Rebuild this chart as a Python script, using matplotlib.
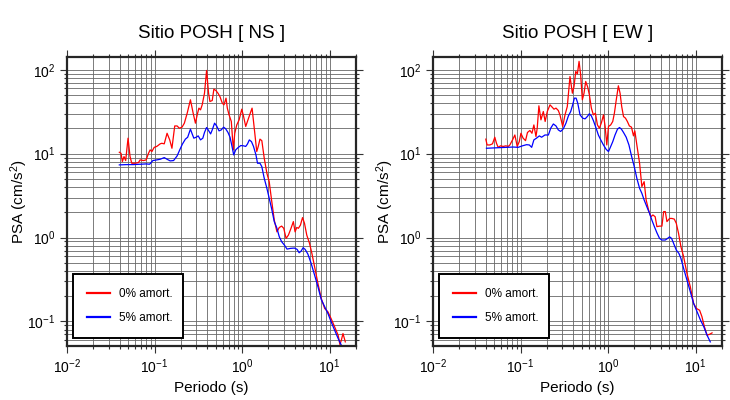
import numpy as np
import matplotlib
matplotlib.use("Agg")
import matplotlib.pyplot as plt
from matplotlib.ticker import LogLocator, NullFormatter

plt.rcParams['font.family'] = ['Liberation Sans', 'DejaVu Sans']
plt.rcParams['mathtext.fontset'] = 'custom'
plt.rcParams['mathtext.rm'] = 'Liberation Sans'
plt.rcParams['mathtext.it'] = 'Liberation Sans:italic'

# ---- datos: Sitio POSH, componente NS ----
ns_t0 = [0.0396, 0.0414, 0.0429, 0.0448, 0.0468, 0.0498, 0.0525, 0.0549, 0.0600, 0.0655,
         0.0684, 0.0748, 0.0802, 0.0853, 0.0891, 0.0932, 0.0991, 0.106, 0.116, 0.121,
         0.129, 0.139, 0.149, 0.158, 0.170, 0.181, 0.192, 0.206, 0.219, 0.236,
         0.257, 0.276, 0.293, 0.307, 0.321, 0.335, 0.350, 0.372, 0.393, 0.414,
         0.429, 0.456, 0.476, 0.502, 0.530, 0.558, 0.594, 0.621, 0.655, 0.678,
         0.710, 0.753, 0.794, 0.824, 0.869, 0.925, 0.991, 1.04, 1.10, 1.15,
         1.24, 1.30, 1.37, 1.47, 1.53, 1.60, 1.68, 1.79, 1.92, 2.04,
         2.17, 2.33, 2.50, 2.66, 2.83, 2.99, 3.18, 3.38, 3.62, 3.85,
         4.03, 4.21, 4.40, 4.64, 4.90, 5.16, 5.48, 5.89, 6.27, 6.73,
         7.35, 8.02, 8.77, 9.57, 10.4, 11.4, 12.5, 13.1, 13.6, 14.2, 15.1]
ns_psa0 = [10.4, 10.1, 8.05, 9.23, 8.28, 15.3, 9.23, 7.69, 7.69, 7.83,
           8.43, 8.28, 8.43, 10.1, 11.1, 10.6, 11.9, 12.2, 13.1, 13.3,
           13.1, 17.5, 14.6, 11.6, 21.4, 21.4, 20.1, 20.7, 23.1, 30.4,
           43.9, 30.4, 23.1, 29.0, 34.9, 33.3, 38.2, 52.6, 98.2, 52.6,
           41.9, 43.0, 58.8, 56.6, 52.6, 48.0, 40.0, 38.2, 45.9, 34.9,
           29.0, 24.2, 11.1, 17.5, 22.0, 25.3, 33.9, 27.7, 21.1, 24.2,
           30.4, 34.9, 21.1, 10.6, 12.2, 14.9, 14.3, 8.83, 5.84, 4.64,
           2.81, 1.62, 1.17, 1.32, 1.37, 1.29, 0.977, 1.07, 1.29, 1.55,
           1.17, 1.32, 1.29, 1.41, 1.73, 1.48, 1.07, 0.853, 0.647, 0.449,
           0.284, 0.188, 0.143, 0.130, 0.108, 0.0863, 0.0686, 0.0531, 0.0598, 0.0718, 0.0571]

ns_t5 = [0.0396, 0.0481, 0.0574, 0.0684, 0.0802, 0.0877, 0.0957, 0.106, 0.116, 0.129,
         0.139, 0.151, 0.165, 0.181, 0.194, 0.208, 0.225, 0.239, 0.257, 0.269,
         0.281, 0.299, 0.315, 0.335, 0.356, 0.372, 0.393, 0.410, 0.437, 0.456,
         0.485, 0.512, 0.545, 0.578, 0.615, 0.649, 0.690, 0.728, 0.767, 0.802,
         0.845, 0.899, 0.966, 1.04, 1.10, 1.15, 1.21, 1.28, 1.35, 1.44,
         1.50, 1.60, 1.68, 1.79, 1.92, 2.04, 2.17, 2.33, 2.50, 2.66,
         2.83, 3.04, 3.26, 3.56, 3.96, 4.25, 4.48, 4.72, 4.98, 5.25,
         5.64, 6.15, 6.73, 7.35, 8.02, 8.77, 9.57, 10.4, 11.4, 12.5, 13.6]
ns_psa5 = [7.35, 7.41, 7.41, 7.48, 7.55, 7.48, 8.28, 8.43, 8.58, 8.98,
           8.58, 8.20, 8.28, 9.40, 11.1, 13.0, 14.9, 15.7, 19.6, 17.2,
           15.3, 15.7, 16.3, 14.6, 15.3, 17.9, 20.5, 19.2, 17.2, 19.2,
           23.1, 21.4, 18.7, 19.2, 20.7, 19.8, 17.9, 15.7, 12.2, 9.66,
           11.1, 11.8, 12.5, 12.4, 12.2, 13.0, 14.6, 13.9, 12.2, 9.66,
           7.69, 7.69, 7.01, 5.09, 3.86, 2.94, 2.23, 1.55, 1.29, 1.02,
           0.893, 0.815, 0.729, 0.743, 0.750, 0.723, 0.659, 0.690, 0.757, 0.723,
           0.636, 0.492, 0.357, 0.259, 0.183, 0.150, 0.124, 0.0991, 0.0787, 0.0627, 0.0521]

# ---- componente EW ----
ew_t0 = [0.0401, 0.0415, 0.0446, 0.0478, 0.0508, 0.0531, 0.0555, 0.0590, 0.0634, 0.0679,
         0.0722, 0.0755, 0.0810, 0.0861, 0.0916, 0.0966, 0.101, 0.107, 0.114, 0.120,
         0.128, 0.135, 0.142, 0.150, 0.155, 0.162, 0.171, 0.182, 0.191, 0.202,
         0.217, 0.226, 0.241, 0.254, 0.270, 0.282, 0.303, 0.322, 0.342, 0.367,
         0.391, 0.408, 0.427, 0.446, 0.466, 0.486, 0.508, 0.531, 0.555, 0.585,
         0.611, 0.644, 0.679, 0.716, 0.755, 0.796, 0.840, 0.885, 0.925, 0.966,
         1.01, 1.07, 1.13, 1.18, 1.24, 1.31, 1.37, 1.43, 1.50, 1.58,
         1.66, 1.75, 1.85, 1.95, 2.02, 2.13, 2.29, 2.43, 2.58, 2.72,
         2.90, 3.08, 3.25, 3.45, 3.61, 3.87, 4.12, 4.31, 4.50, 4.70,
         5.04, 5.36, 5.70, 6.01, 6.38, 6.79, 7.29, 7.96, 8.69, 9.48,
         10.2, 11.1, 11.8, 12.6, 13.5, 14.5, 15.4]
ew_psa0 = [14.9, 12.7, 12.7, 13.1, 15.7, 13.3, 11.9, 12.4, 12.2, 12.4,
           12.2, 12.7, 14.6, 16.7, 12.2, 13.9, 17.5, 15.3, 14.3, 17.9,
           18.9, 17.5, 22.0, 16.0, 20.1, 37.2, 25.3, 31.8, 24.2, 31.8,
           38.2, 36.5, 33.9, 34.9, 32.7, 29.0, 21.1, 29.0, 36.5, 83.2,
           52.6, 63.2, 95.5, 89.5, 126.0, 87.1, 43.9, 52.6, 72.6, 62.1,
           50.3, 34.9, 29.0, 30.4, 22.0, 20.1, 23.5, 29.0, 21.1, 12.7,
           21.1, 22.0, 24.2, 30.4, 43.9, 64.4, 52.6, 36.5, 27.7, 26.5,
           24.2, 21.4, 20.7, 16.3, 18.7, 12.7, 7.69, 4.05, 4.64, 2.81,
           2.13, 1.77, 1.86, 1.77, 1.35, 1.37, 1.37, 2.04, 2.04, 1.55,
           1.69, 1.69, 1.66, 1.48, 1.12, 0.778, 0.592, 0.374, 0.259, 0.164,
           0.143, 0.136, 0.114, 0.0863, 0.0686, 0.0705, 0.0731]

ew_t5 = [0.0408, 0.0486, 0.0580, 0.0692, 0.0824, 0.0940, 0.105, 0.117, 0.126, 0.134,
         0.142, 0.152, 0.164, 0.174, 0.190, 0.208, 0.221, 0.237, 0.254, 0.270,
         0.287, 0.308, 0.330, 0.352, 0.374, 0.394, 0.412, 0.431, 0.450, 0.478,
         0.513, 0.546, 0.579, 0.611, 0.644, 0.679, 0.730, 0.774, 0.824, 0.885,
         0.948, 1.01, 1.05, 1.13, 1.20, 1.28, 1.35, 1.42, 1.50, 1.61,
         1.73, 1.85, 1.99, 2.13, 2.29, 2.43, 2.58, 2.77, 2.97, 3.16,
         3.36, 3.61, 3.87, 4.12, 4.50, 4.78, 5.04, 5.31, 5.60, 6.01,
         6.44, 6.79, 7.29, 7.96, 8.69, 9.48, 10.4, 11.3, 12.4, 13.5, 14.7]
ew_psa5 = [11.6, 11.7, 11.8, 11.9, 12.0, 11.9, 12.4, 12.8, 12.7, 11.9,
           14.6, 15.3, 16.3, 15.7, 16.7, 16.7, 20.1, 22.6, 21.4, 19.2,
           18.4, 19.8, 23.1, 28.2, 31.8, 38.2, 45.9, 45.9, 40.0, 29.0,
           26.5, 26.0, 27.7, 29.9, 28.2, 24.8, 20.1, 16.7, 14.6, 12.7,
           11.3, 10.6, 11.6, 13.9, 16.7, 19.6, 20.5, 19.6, 17.9, 15.7,
           12.7, 9.40, 7.01, 5.09, 3.86, 3.37, 2.81, 2.33, 1.95, 1.62,
           1.37, 1.14, 0.977, 0.935, 0.935, 0.977, 1.02, 0.977, 0.853, 0.710,
           0.647, 0.565, 0.429, 0.311, 0.226, 0.164, 0.130, 0.105, 0.0863, 0.0686, 0.0571]

panels = [("Sitio POSH [ NS ]", ns_t0, ns_psa0, ns_t5, ns_psa5),
          ("Sitio POSH [ EW ]", ew_t0, ew_psa0, ew_t5, ew_psa5)]

fig = plt.figure(figsize=(7.3, 4.0), dpi=100)
lefts = [67/730, 433/730]

for k, (titulo, t0, p0, t5, p5) in enumerate(panels):
    ax = fig.add_axes([lefts[k], 54/400, 289/730, 289/400])
    ax.set_xscale('log')
    ax.set_yscale('log')
    ax.plot(t0, p0, color='red', lw=0.9, label='0% amort.')
    ax.plot(t5, p5, color='blue', lw=0.9, label='5% amort.')
    ax.set_xlim(0.01, 20)
    ax.set_ylim(0.051, 142)
    ax.xaxis.set_major_locator(LogLocator(base=10, numticks=10))
    ax.xaxis.set_minor_locator(LogLocator(base=10, subs=np.arange(2, 10), numticks=20))
    ax.yaxis.set_minor_locator(LogLocator(base=10, subs=np.arange(2, 10), numticks=20))
    ax.xaxis.set_minor_formatter(NullFormatter())
    ax.yaxis.set_minor_formatter(NullFormatter())
    ax.grid(True, which='both', color='0.4', lw=0.6)
    ax.set_axisbelow(True)
    ax.tick_params(which='both', direction='out', top=True, right=True,
                   labelsize=10, width=0.8, color='0.2')
    ax.tick_params(which='major', length=5)
    ax.tick_params(which='minor', length=2.5)
    for s in ax.spines.values():
        s.set_linewidth(1.6)
        s.set_color('0.15')
    ax.set_title(titulo, fontsize=13.5, pad=14)
    ax.set_xlabel('Periodo (s)', fontsize=11, labelpad=3)
    ax.set_ylabel('PSA (cm/s$^2$)', fontsize=11)
    ax.yaxis.set_label_coords(-0.128, 0.5)
    leg = ax.legend(loc='lower left', bbox_to_anchor=(0.021, 0.028, 0.382, 0.25),
                    mode='expand', borderaxespad=0, fancybox=False, framealpha=1,
                    edgecolor='black', fontsize=8.5, handlelength=1.9,
                    borderpad=1.2, labelspacing=1.0, handletextpad=0.8)
    leg.get_frame().set_linewidth(1.4)
    for h in leg.get_lines():
        h.set_linewidth(1.6)

fig.savefig('out.png', dpi=100)
